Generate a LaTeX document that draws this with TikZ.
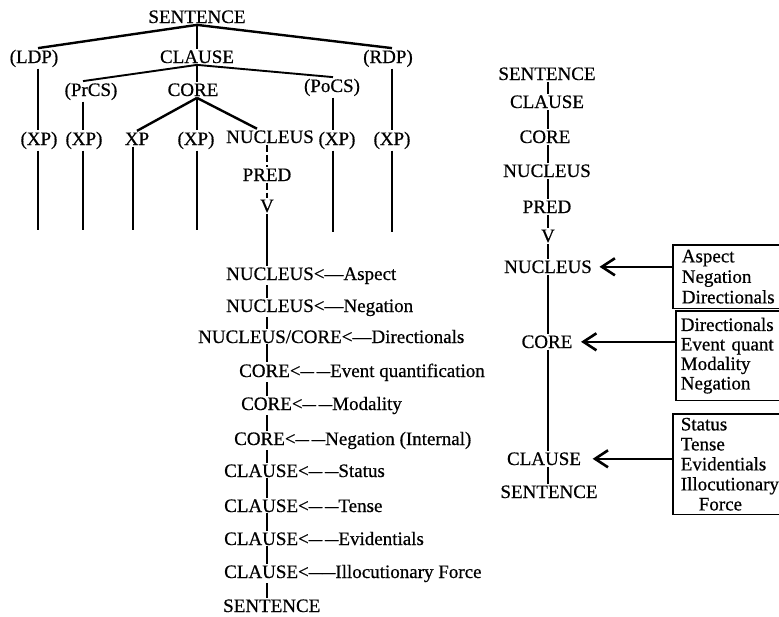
\documentclass[tikz,border=0pt]{standalone}
\usepackage{fontspec}
\usepackage{graphicx}
\setmainfont{Liberation Serif}[RawFeature={embolden=0.6}]
\usetikzlibrary{arrows.meta}
\newcommand{\ldsh}{\scalebox{1.4}[1]{–}}
\begin{document}
\begin{tikzpicture}[x=1pt,y=-1pt,
  lab/.style={font=\fontsize{19}{20}\selectfont, inner sep=1.5pt, anchor=base},
  row/.style={font=\fontsize{19}{20}\selectfont, inner sep=1pt, anchor=base west},
  thk/.style={line width=2.4pt},
  med/.style={line width=1.9pt},
  thn/.style={line width=1.3pt},
  spine/.style={line width=1.5pt},
  rspine/.style={line width=2pt},
  dsh/.style={line width=1.2pt, dash pattern=on 7pt off 3pt},
  box/.style={draw, line width=1.6pt, anchor=north west, align=left, text width=110pt},
  arr/.style={line width=1.6pt, -{Straight Barb[length=13pt,width=17pt,line width=2.6pt]}}]
\useasboundingbox (0,0) rectangle (779,616);
\clip (0,0) rectangle (779,616);

% ---------- top tree ----------
\node[lab] (s0) at (197,23) {SENTENCE};
\node[lab] (ldp) at (34,63) {(LDP)};
\node[lab] (cl) at (197,63) {CLAUSE};
\node[lab] (rdp) at (388,63) {(RDP)};
\node[lab] (prcs) at (91,96) {(PrCS)};
\node[lab] (core) at (193,96) {CORE};
\node[lab] (pocs) at (332,92) {(PoCS)};
\node[lab] (xa) at (39,145) {(XP)};
\node[lab] (xb) at (84,145) {(XP)};
\node[lab] (xc) at (137,145) {XP};
\node[lab] (xd) at (196,145) {(XP)};
\node[lab] (nuc) at (270,143) {NUCLEUS};
\node[lab] (xe) at (337,145) {(XP)};
\node[lab] (xf) at (392,145) {(XP)};
\node[lab] (pred) at (267,181) {PRED};
\node[lab] (v) at (267,212) {V};

\coordinate (ea) at (38,230);
\coordinate (eb) at (83,230);
\coordinate (ec) at (133,230);
\coordinate (ed) at (197,230);
\coordinate (ee) at (333,232);
\coordinate (ef) at (392,232);

\draw[thk] (s0.south) -- (ldp.north -| ea);
\draw[thk] (s0.south) -- (cl.north);
\draw[thk] (s0.south) -- (rdp.north -| ef);
\draw[med] (cl.south) -- (prcs.north -| eb);
\draw[med] (cl.south) -- (core.north -| cl.south);
\draw[med] (cl.south) -- (pocs.north -| ee);
\draw[thk] (core.south -| cl.south) -- (xc.north);
\draw[thk] (core.south -| cl.south) -- (xd.north -| ed);
\draw[thk] (core.south -| cl.south) -- ([xshift=-13pt]nuc.north);

\draw[med] (ldp.south -| ea) -- (xa.north -| ea);
\draw[med] (xa.south -| ea) -- (ea);
\draw[med] (prcs.south -| eb) -- (xb.north -| eb);
\draw[med] (xb.south -| eb) -- (eb);
\draw[med] (xc.south -| ec) -- (ec);
\draw[med] (xd.south -| ed) -- (ed);
\draw[thn] (pocs.south -| ee) -- (xe.north -| ee);
\draw[thn] (xe.south -| ee) -- (ee);
\draw[thn] (rdp.south -| ef) -- (xf.north -| ef);
\draw[thn] (xf.south -| ef) -- (ef);
\draw[dsh] (nuc.south -| pred) -- (pred.north);
\draw[dsh] (pred.south) -- (v.north);

% ---------- middle column ----------
\node[row] (m1) at (225,280) {NUCLEUS<—Aspect};
\node[row] (m2) at (225,312) {NUCLEUS<—Negation};
\node[row] (m3) at (197,343) {NUCLEUS/CORE<—Directionals};
\node[row] (m4) at (238,377) {CORE<\ldsh\kern3pt\ldsh Event quantification};
\node[row] (m5) at (240,410) {CORE<\ldsh\kern3pt\ldsh Modality};
\node[row] (m6) at (233,445) {CORE<\ldsh\kern3pt\ldsh Negation (Internal)};
\node[row] (m7) at (223,477) {CLAUSE<\ldsh\kern3pt\ldsh Status};
\node[row] (m8) at (223,512) {CLAUSE<\ldsh\kern3pt\ldsh Tense};
\node[row] (m9) at (223,545) {CLAUSE<\ldsh\kern3pt\ldsh Evidentials};
\node[row] (m10) at (223,578) {CLAUSE<\ldsh\ldsh Illocutionary Force};
\node[row] (m11) at (222,612) {SENTENCE};

\draw[spine] (v.south) -- (m1.north -| v);
\draw[spine] (m1.south -| v) -- (m2.north -| v);
\draw[spine] (m2.south -| v) -- (m3.north -| v);
\draw[spine] (m3.south -| v) -- (m4.north -| v);
\draw[spine] (m4.south -| v) -- (m5.north -| v);
\draw[spine] (m5.south -| v) -- (m6.north -| v);
\draw[spine] (m6.south -| v) -- (m7.north -| v);
\draw[spine] (m7.south -| v) -- (m8.north -| v);
\draw[spine] (m8.south -| v) -- (m9.north -| v);
\draw[spine] (m9.south -| v) -- (m10.north -| v);
\draw[spine] (m10.south -| v) -- (m11.north -| v);

% ---------- right column ----------
\node[lab] (r1) at (547,80) {SENTENCE};
\node[lab] (r2) at (547,108) {CLAUSE};
\node[lab] (r3) at (545,143) {CORE};
\node[lab] (r4) at (547,177) {NUCLEUS};
\node[lab] (r5) at (547,213) {PRED};
\node[lab] (r6) at (548,242) {V};
\node[lab] (r7) at (548,273) {NUCLEUS};
\node[lab] (r8) at (547,348) {CORE};
\node[lab] (r9) at (544,465) {CLAUSE};
\node[lab] (r10) at (549,498) {SENTENCE};
\coordinate (rs) at (548,0);

\draw[rspine] (r1.south -| rs) -- (r2.north -| rs);
\draw[rspine] (r2.south -| rs) -- (r3.north -| rs);
\draw[rspine] (r3.south -| rs) -- (r4.north -| rs);
\draw[rspine] (r4.south -| rs) -- (r5.north -| rs);
\draw[rspine] (r5.south -| rs) -- (r6.north -| rs);
\draw[rspine] (r6.south -| rs) -- (r7.north -| rs);
\draw[rspine] (r7.south -| rs) -- (r8.north -| rs);
\draw[rspine] (r8.south -| rs) -- (r9.north -| rs);
\draw[rspine] (r9.south -| rs) -- (r10.north -| rs);

% ---------- boxes ----------
\node[box, font=\fontsize{19}{20.5}\selectfont, inner xsep=9pt, inner ysep=5pt] (b1) at (672,244)
  {Aspect\\Negation\\Directionals};
\node[box, font=\fontsize{19}{19.5}\selectfont, inner xsep=5pt, inner ysep=7pt] (b2) at (675,310)
  {Directionals\\Event quant\\Modality\\Negation};
\node[box, font=\fontsize{19}{20}\selectfont, inner xsep=8pt, inner ysep=4pt] (b3) at (672,413)
  {Status\\Tense\\Evidentials\\Illocutionary\\\hspace*{18pt}Force};

\draw[arr] (b1.west |- r7.center) -- ([xshift=6pt]r7.east);
\draw[arr] (b2.west |- r8.center) -- ([xshift=7pt]r8.east);
\draw[arr] (b3.west |- r9.center) -- ([xshift=10pt]r9.east);
\end{tikzpicture}
\end{document}
